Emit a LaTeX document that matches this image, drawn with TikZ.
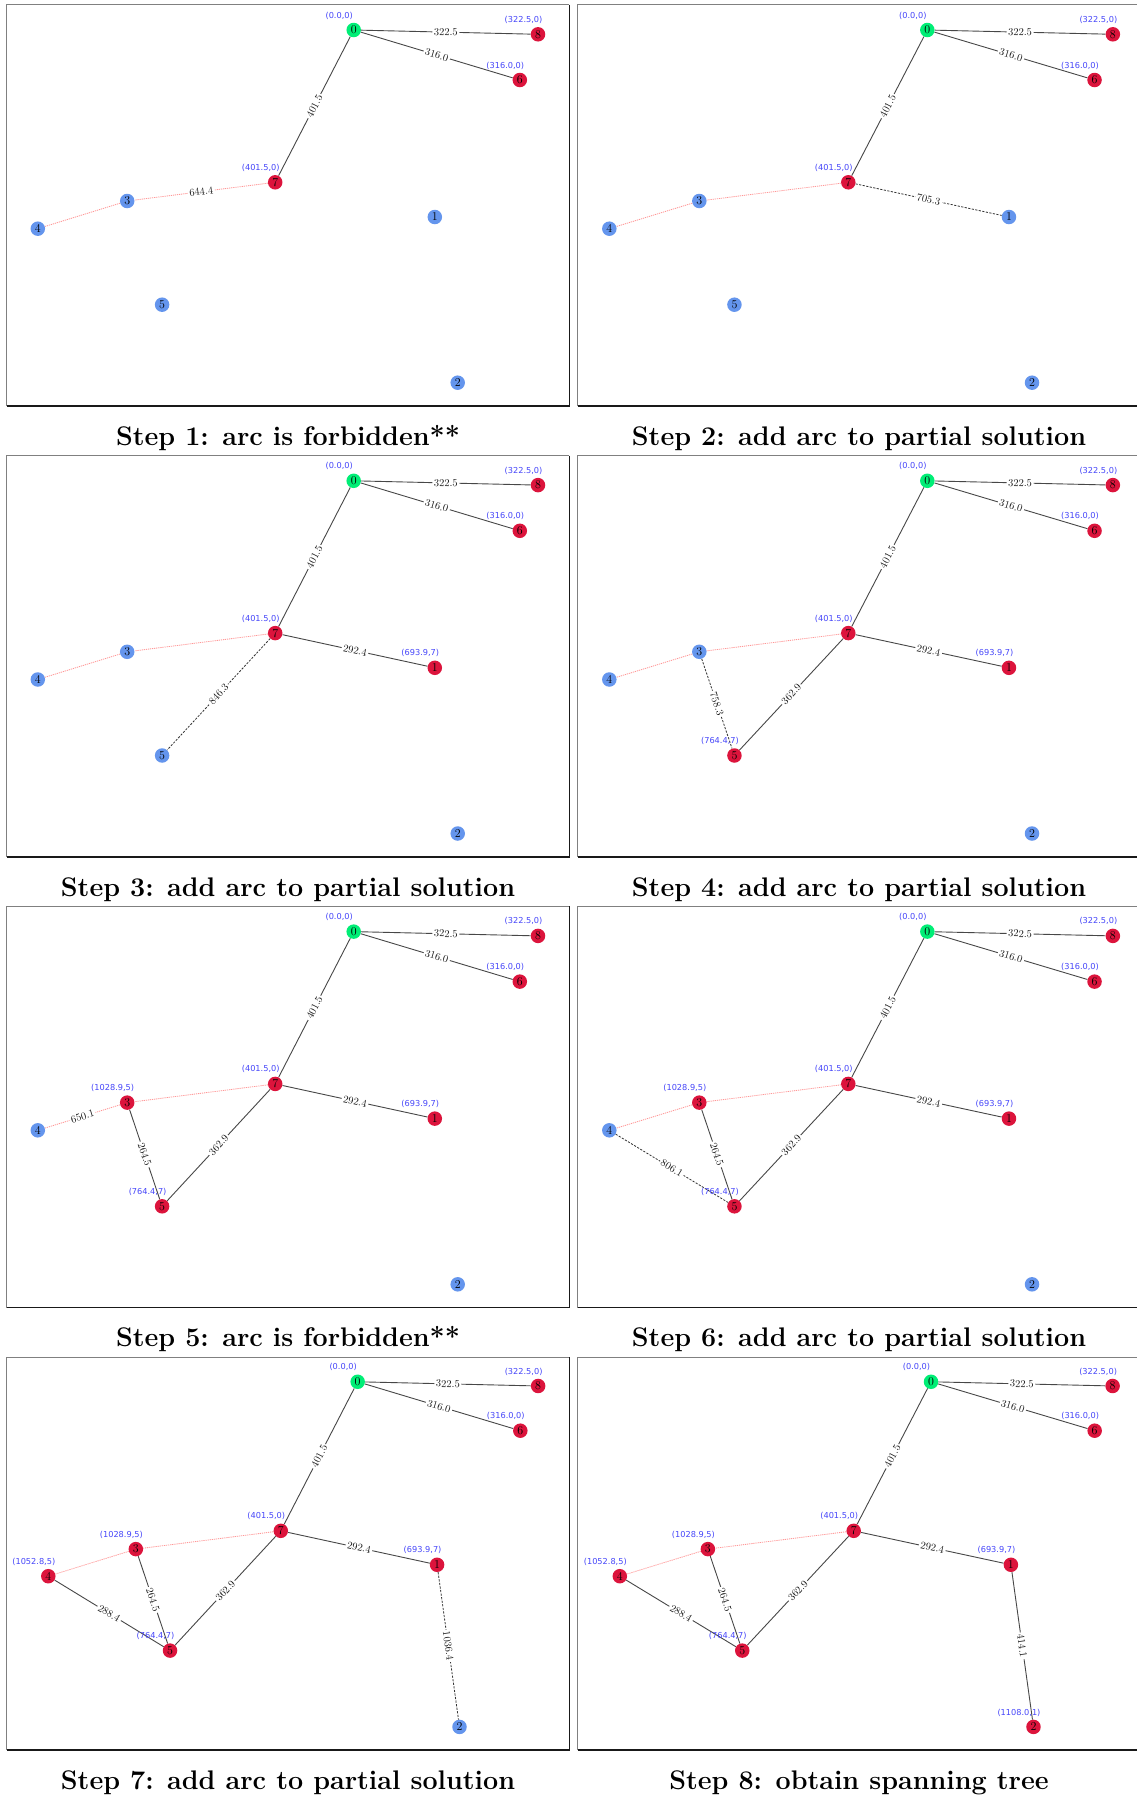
\documentclass[tikz,border=0pt]{standalone}
\usepackage{fontspec}
\newfontfamily\dvs{DejaVu Sans}
\definecolor{cgreen}{RGB}{0,238,118}
\definecolor{cred}{RGB}{220,20,60}
\definecolor{cblue}{RGB}{100,149,237}
\definecolor{ctext}{RGB}{70,70,250}
\definecolor{cforb}{RGB}{255,150,150}
\pgfdeclarelayer{edges}
\pgfsetlayers{edges,main}
\tikzset{
 vtx/.style={circle,minimum size=14.5pt,inner sep=0pt,font=\fontsize{12}{12}\selectfont,text=black},
 clab/.style={font=\dvs\fontsize{8.2}{8.2}\selectfont,text=ctext,inner sep=0pt},
 elab/.style={font=\fontsize{10.5}{10.5}\selectfont,fill=white,inner sep=1.6pt,sloped,midway,text=black!90},
 tree/.style={draw=black!72,line width=0.9pt},
 forb/.style={draw=cforb,line width=0.8pt,dash pattern=on 1.2pt off 0.9pt},
 cand/.style={draw=black!80,line width=0.8pt,dash pattern=on 2.2pt off 1.4pt},
 frl/.style={draw=black!50,line width=1.2pt},
 frd/.style={draw=black!90,line width=1.4pt},
 captxt/.style={font=\bfseries\fontsize{26.9}{30}\selectfont,anchor=base,inner sep=0pt}
}
\newcommand\mklayout[5]{%
  \begin{scope}[shift={(#2,#3)},xscale=#4,yscale=#5]
  \coordinate (#1c0) at (347.0,25.3);
  \coordinate (#1c8) at (531.3,29.6);
  \coordinate (#1c6) at (513.1,75.3);
  \coordinate (#1c7) at (268.5,177.6);
  \coordinate (#1c3) at (120.5,196.3);
  \coordinate (#1c4) at (31.1,224.0);
  \coordinate (#1c1) at (428.1,212.3);
  \coordinate (#1c5) at (155.4,300.0);
  \coordinate (#1c2) at (451.0,378.0);
  \end{scope}}
\newcommand\vxs[2]{\foreach \k/\c in {#2} {\node[vtx,fill=\c] (#1n\k) at (#1c\k) {\k};}}
\newcommand\cl[3]{\node[clab] (#1l#2) at ([shift={(-14.5,-14.5)}]#1n#2.center) {#3};}
\newcommand\basetree[1]{%
  \draw[tree] (#1n0) -- node[elab]{322.5} (#1n8);
  \draw[tree] (#1n0) -- node[elab]{316.0} (#1n6);
  \draw[tree] (#1n0) -- node[elab]{401.5} (#1n7);}
\newcommand\frm[4]{%
  \draw[frl] (#1,#4) -- (#1,#2) -- (#3,#2);
  \draw[frd] (#3,#2) -- (#3,#4) -- (#1,#4);}
\begin{document}
\begin{tikzpicture}[x=1pt,y=-1pt]
\begin{pgfonlayer}{edges}
\fill[white] (0,0) rectangle (1137,1796);
\end{pgfonlayer}
\useasboundingbox (0,0) rectangle (1137,1796);

% frames
\frm{6.7}{4.7}{569.3}{406}
\frm{577.7}{4.7}{1140.3}{406}
\frm{6.7}{455.5}{569.3}{856.8}
\frm{577.7}{455.5}{1140.3}{856.8}
\frm{6.7}{906.3}{569.3}{1307.6}
\frm{577.7}{906.3}{1140.3}{1307.6}
\frm{6.7}{1357.3}{569.3}{1750}
\frm{577.7}{1357.3}{1140.3}{1750}

% captions
\node[captxt] (cap1) at (288,445.3) {Step 1: arc is forbidden**};
\node[captxt] (cap2) at (859,445.3) {Step 2: add arc to partial solution};
\node[captxt] (cap3) at (288,896.1) {Step 3: add arc to partial solution};
\node[captxt] (cap4) at (859,896.1) {Step 4: add arc to partial solution};
\node[captxt] (cap5) at (288,1346.9) {Step 5: arc is forbidden**};
\node[captxt] (cap6) at (859,1346.9) {Step 6: add arc to partial solution};
\node[captxt] (cap7) at (288,1789) {Step 7: add arc to partial solution};
\node[captxt] (cap8) at (859,1789) {Step 8: obtain spanning tree};

% ---------------- Panel 1
\mklayout{p1}{6.7}{4.7}{1}{1}
\vxs{p1}{0/cgreen,8/cred,6/cred,7/cred,3/cblue,4/cblue,1/cblue,5/cblue,2/cblue}
\cl{p1}{0}{(0.0,0)}\cl{p1}{8}{(322.5,0)}\cl{p1}{6}{(316.0,0)}\cl{p1}{7}{(401.5,0)}
\begin{pgfonlayer}{edges}
\basetree{p1}
\draw[forb] (p1n3) -- (p1n4);
\draw[forb] (p1n7) -- node[elab]{644.4} (p1n3);
\end{pgfonlayer}

% ---------------- Panel 2
\mklayout{p2}{578.0}{4.7}{1.0067}{1}
\vxs{p2}{0/cgreen,8/cred,6/cred,7/cred,3/cblue,4/cblue,1/cblue,5/cblue,2/cblue}
\cl{p2}{0}{(0.0,0)}\cl{p2}{8}{(322.5,0)}\cl{p2}{6}{(316.0,0)}\cl{p2}{7}{(401.5,0)}
\begin{pgfonlayer}{edges}
\basetree{p2}
\draw[forb] (p2n3) -- (p2n4);
\draw[forb] (p2n7) -- (p2n3);
\draw[cand] (p2n7) -- node[elab]{705.3} (p2n1);
\end{pgfonlayer}

% ---------------- Panel 3
\mklayout{p3}{6.7}{455.5}{1}{1}
\vxs{p3}{0/cgreen,8/cred,6/cred,7/cred,3/cblue,4/cblue,1/cred,5/cblue,2/cblue}
\cl{p3}{0}{(0.0,0)}\cl{p3}{8}{(322.5,0)}\cl{p3}{6}{(316.0,0)}\cl{p3}{7}{(401.5,0)}
\cl{p3}{1}{(693.9,7)}
\begin{pgfonlayer}{edges}
\basetree{p3}
\draw[tree] (p3n7) -- node[elab]{292.4} (p3n1);
\draw[forb] (p3n3) -- (p3n4);
\draw[forb] (p3n7) -- (p3n3);
\draw[cand] (p3n7) -- node[elab]{846.3} (p3n5);
\end{pgfonlayer}

% ---------------- Panel 4
\mklayout{p4}{578.0}{455.5}{1.0067}{1}
\vxs{p4}{0/cgreen,8/cred,6/cred,7/cred,3/cblue,4/cblue,1/cred,5/cred,2/cblue}
\cl{p4}{0}{(0.0,0)}\cl{p4}{8}{(322.5,0)}\cl{p4}{6}{(316.0,0)}\cl{p4}{7}{(401.5,0)}
\cl{p4}{1}{(693.9,7)}\cl{p4}{5}{(764.4,7)}
\begin{pgfonlayer}{edges}
\basetree{p4}
\draw[tree] (p4n7) -- node[elab]{292.4} (p4n1);
\draw[tree] (p4n7) -- node[elab]{362.9} (p4n5);
\draw[forb] (p4n3) -- (p4n4);
\draw[forb] (p4n7) -- (p4n3);
\draw[cand] (p4n3) -- node[elab]{758.3} (p4n5);
\end{pgfonlayer}

% ---------------- Panel 5
\mklayout{p5}{6.7}{906.3}{1}{1}
\vxs{p5}{0/cgreen,8/cred,6/cred,7/cred,3/cred,4/cblue,1/cred,5/cred,2/cblue}
\cl{p5}{0}{(0.0,0)}\cl{p5}{8}{(322.5,0)}\cl{p5}{6}{(316.0,0)}\cl{p5}{7}{(401.5,0)}
\cl{p5}{1}{(693.9,7)}\cl{p5}{5}{(764.4,7)}\cl{p5}{3}{(1028.9,5)}
\begin{pgfonlayer}{edges}
\basetree{p5}
\draw[tree] (p5n7) -- node[elab]{292.4} (p5n1);
\draw[tree] (p5n7) -- node[elab]{362.9} (p5n5);
\draw[tree] (p5n3) -- node[elab]{264.5} (p5n5);
\draw[forb] (p5n7) -- (p5n3);
\draw[forb] (p5n3) -- node[elab]{650.1} (p5n4);
\end{pgfonlayer}

% ---------------- Panel 6
\mklayout{p6}{578.0}{906.3}{1.0067}{1}
\vxs{p6}{0/cgreen,8/cred,6/cred,7/cred,3/cred,4/cblue,1/cred,5/cred,2/cblue}
\cl{p6}{0}{(0.0,0)}\cl{p6}{8}{(322.5,0)}\cl{p6}{6}{(316.0,0)}\cl{p6}{7}{(401.5,0)}
\cl{p6}{1}{(693.9,7)}\cl{p6}{5}{(764.4,7)}\cl{p6}{3}{(1028.9,5)}
\begin{pgfonlayer}{edges}
\basetree{p6}
\draw[tree] (p6n7) -- node[elab]{292.4} (p6n1);
\draw[tree] (p6n7) -- node[elab]{362.9} (p6n5);
\draw[tree] (p6n3) -- node[elab]{264.5} (p6n5);
\draw[forb] (p6n7) -- (p6n3);
\draw[forb] (p6n3) -- (p6n4);
\draw[cand] (p6n4) -- node[elab]{806.1} (p6n5);
\end{pgfonlayer}

% ---------------- Panel 7
\mklayout{p7}{17.84}{1357.0}{0.9793}{0.9786}
\vxs{p7}{0/cgreen,8/cred,6/cred,7/cred,3/cred,4/cred,1/cred,5/cred,2/cblue}
\cl{p7}{0}{(0.0,0)}\cl{p7}{8}{(322.5,0)}\cl{p7}{6}{(316.0,0)}\cl{p7}{7}{(401.5,0)}
\cl{p7}{1}{(693.9,7)}\cl{p7}{5}{(764.4,7)}\cl{p7}{3}{(1028.9,5)}\cl{p7}{4}{(1052.8,5)}
\begin{pgfonlayer}{edges}
\basetree{p7}
\draw[tree] (p7n7) -- node[elab]{292.4} (p7n1);
\draw[tree] (p7n7) -- node[elab]{362.9} (p7n5);
\draw[tree] (p7n3) -- node[elab]{264.5} (p7n5);
\draw[tree] (p7n4) -- node[elab]{288.4} (p7n5);
\draw[forb] (p7n7) -- (p7n3);
\draw[forb] (p7n3) -- (p7n4);
\draw[cand] (p7n1) -- node[elab]{1036.4} (p7n2);
\end{pgfonlayer}

% ---------------- Panel 8
\mklayout{p8}{589.16}{1357.0}{0.9852}{0.9786}
\vxs{p8}{0/cgreen,8/cred,6/cred,7/cred,3/cred,4/cred,1/cred,5/cred,2/cred}
\cl{p8}{0}{(0.0,0)}\cl{p8}{8}{(322.5,0)}\cl{p8}{6}{(316.0,0)}\cl{p8}{7}{(401.5,0)}
\cl{p8}{1}{(693.9,7)}\cl{p8}{5}{(764.4,7)}\cl{p8}{3}{(1028.9,5)}\cl{p8}{4}{(1052.8,5)}
\cl{p8}{2}{(1108.0,1)}
\begin{pgfonlayer}{edges}
\basetree{p8}
\draw[tree] (p8n7) -- node[elab]{292.4} (p8n1);
\draw[tree] (p8n7) -- node[elab]{362.9} (p8n5);
\draw[tree] (p8n3) -- node[elab]{264.5} (p8n5);
\draw[tree] (p8n4) -- node[elab]{288.4} (p8n5);
\draw[tree] (p8n1) -- node[elab]{414.1} (p8n2);
\draw[forb] (p8n7) -- (p8n3);
\draw[forb] (p8n3) -- (p8n4);
\end{pgfonlayer}
\end{tikzpicture}
\end{document}
